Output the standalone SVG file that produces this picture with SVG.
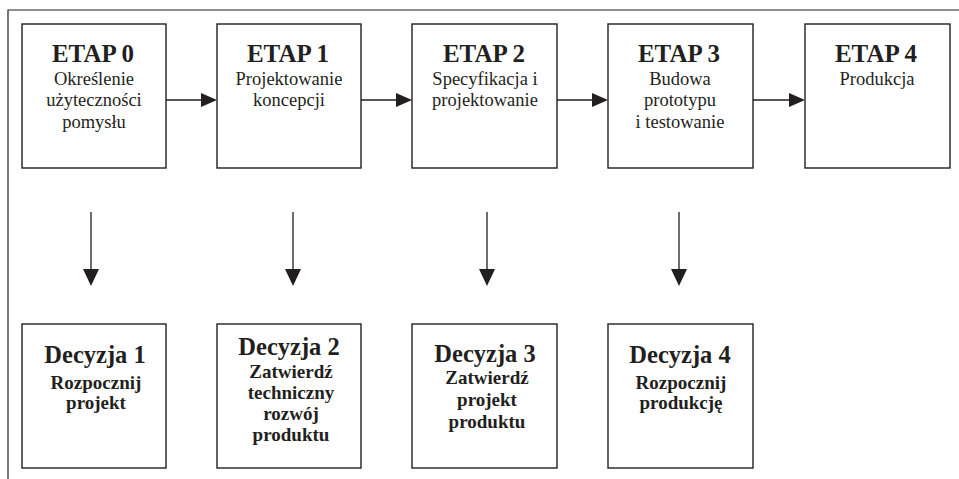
<svg xmlns="http://www.w3.org/2000/svg" width="959" height="479" viewBox="0 0 959 479">
<defs>
<style>
.box{fill:#fff;stroke:#231f20;stroke-width:1.4}
.frame{fill:none;stroke:#231f20;stroke-width:1.2}
.conn{stroke:#231f20;stroke-width:1.3;fill:none}
.head{fill:#231f20}
text{font-family:"Liberation Serif","Times New Roman",serif;fill:#231f20;text-anchor:middle}
.t{font-size:25px;font-weight:bold}
.s{font-size:18.5px}
.dt{font-size:24.5px;font-weight:bold}
.ds{font-size:19px;font-weight:bold}
</style>
</defs>
<rect width="959" height="479" fill="#fff"/>
<path class="frame" d="M959 10 H8 V479"/>
<g id="etap0"><rect class="box" x="22" y="24" width="144" height="144"/>
<text class="t" x="93" y="62">ETAP 0</text>
<text class="s" x="94" y="85">Określenie</text>
<text class="s" x="94" y="106">użyteczności</text>
<text class="s" x="94" y="128">pomysłu</text></g>
<g id="etap1"><rect class="box" x="217" y="24" width="144" height="144"/>
<text class="t" x="288" y="62">ETAP 1</text>
<text class="s" x="289" y="85">Projektowanie</text>
<text class="s" x="289" y="106">koncepcji</text></g>
<g id="etap2"><rect class="box" x="412" y="24" width="145" height="144"/>
<text class="t" x="484" y="62">ETAP 2</text>
<text class="s" x="485" y="85">Specyfikacja i</text>
<text class="s" x="485" y="106">projektowanie</text></g>
<g id="etap3"><rect class="box" x="608" y="24" width="145" height="144"/>
<text class="t" x="679" y="62">ETAP 3</text>
<text class="s" x="680" y="85">Budowa</text>
<text class="s" x="680" y="106">prototypu</text>
<text class="s" x="680" y="128">i testowanie</text></g>
<g id="etap4"><rect class="box" x="805" y="24" width="145" height="144"/>
<text class="t" x="876" y="62">ETAP 4</text>
<text class="s" x="877" y="85">Produkcja</text></g>
<g id="decyzja1"><rect class="box" x="22" y="324" width="144" height="144"/>
<text class="dt" x="95" y="363">Decyzja 1</text>
<text class="ds" x="96" y="389">Rozpocznij</text>
<text class="ds" x="96" y="409">projekt</text></g>
<g id="decyzja2"><rect class="box" x="217" y="324" width="144" height="144"/>
<text class="dt" x="289" y="355">Decyzja 2</text>
<text class="ds" x="291" y="378">Zatwierdź</text>
<text class="ds" x="291" y="399">techniczny</text>
<text class="ds" x="291" y="420">rozwój</text>
<text class="ds" x="291" y="441">produktu</text></g>
<g id="decyzja3"><rect class="box" x="412" y="324" width="145" height="144"/>
<text class="dt" x="485" y="362">Decyzja 3</text>
<text class="ds" x="487" y="384">Zatwierdź</text>
<text class="ds" x="487" y="406">projekt</text>
<text class="ds" x="487" y="428">produktu</text></g>
<g id="decyzja4"><rect class="box" x="608" y="324" width="145" height="144"/>
<text class="dt" x="680" y="363">Decyzja 4</text>
<text class="ds" x="681" y="389">Rozpocznij</text>
<text class="ds" x="681" y="409">produkcję</text></g>
<g id="connectors">
<path class="conn" d="M166 100 H203 M361 100 H398 M557 100 H594 M753 100 H791"/>
<path class="head" d="M201 93 L217 100 L201 107 Z M396 93 L412 100 L396 107 Z M592 93 L608 100 L592 107 Z M789 93 L805 100 L789 107 Z"/>
<path class="conn" d="M91 212 V271 M293 212 V271 M487 212 V271 M679 212 V271"/>
<path class="head" d="M83 269 L99 269 L91 286 Z M285 269 L301 269 L293 286 Z M479 269 L495 269 L487 286 Z M671 269 L687 269 L679 286 Z"/>
</g>
</svg>
